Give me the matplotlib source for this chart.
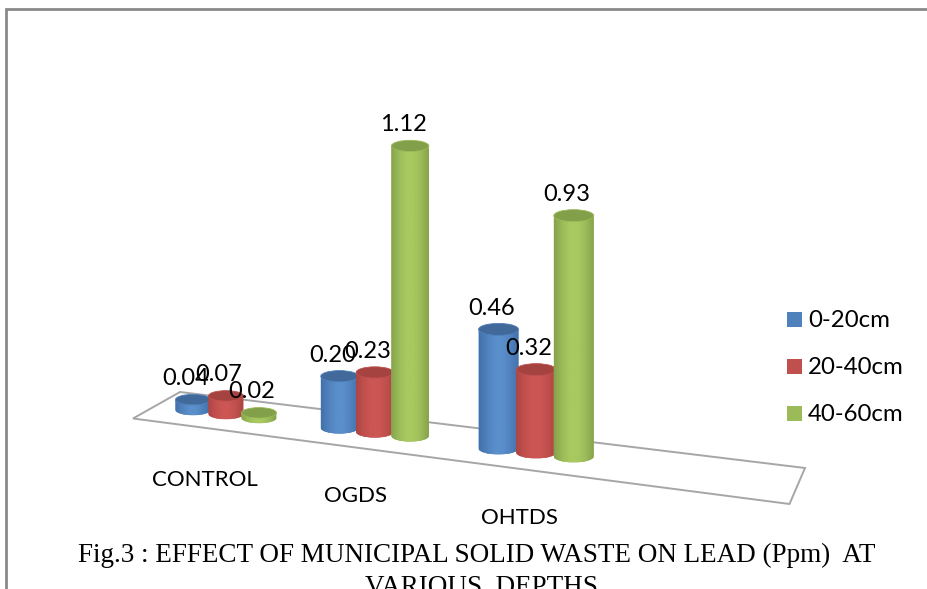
"""Fig.3 -- lead (Ppm) at three depths, drawn as Excel style 3D cylinders."""
import numpy as np
import matplotlib
matplotlib.use("Agg")
import matplotlib.pyplot as plt
from matplotlib.patches import Ellipse, Polygon, Rectangle, PathPatch
from matplotlib.path import Path

sites = ["CONTROL", "OGDS", "OHTDS"]
depths = ["0-20cm", "20-40cm", "40-60cm"]
lead_0_20 = [0.04, 0.20, 0.46]
lead_20_40 = [0.07, 0.23, 0.32]
lead_40_60 = [0.02, 1.12, 0.93]
caption = ["Fig.3 : EFFECT OF MUNICIPAL SOLID WASTE ON LEAD (Ppm)  AT",
           "VARIOUS  DEPTHS"]

# colours: main, dark edge, light centre, top cap
colors = [("#4F81BD", "#4372AB", "#5A8FCB", "#41699A"),
          ("#C0504D", "#AD4542", "#CC5653", "#A54341"),
          ("#9BBB59", "#86A34B", "#A8C960", "#82A04A")]

PX_PER_UNIT = 259.0   # vertical pixels per Ppm
plt.rcParams["font.family"] = ["Lato", "DejaVu Sans"]


def base_point(g, s):
    """Floor position of a cylinder, bars get larger towards the front."""
    grow = 1 + 0.07 * g
    x = 193 + 146.5 * g + 6.25 * g * (g - 1) + 33 * grow * s
    y = 410 + 18 * g + 1.25 * g * (g - 1) + 4 * s
    return x, y, 35 * grow


def draw_cylinder(ax, x, y, w, h, cols, z):
    main, dark, light, cap = cols
    ry = w * 0.15
    left, right = x - w / 2, x + w / 2
    top = y - h
    # body outline with rounded bottom
    k = 0.5523
    verts = [(left, top), (left, y),
             (left, y + k * ry), (x - k * w / 2, y + ry), (x, y + ry),
             (x + k * w / 2, y + ry), (right, y + k * ry), (right, y),
             (right, top), (left, top)]
    codes = [Path.MOVETO, Path.LINETO, Path.CURVE4, Path.CURVE4, Path.CURVE4,
             Path.CURVE4, Path.CURVE4, Path.CURVE4, Path.LINETO, Path.CLOSEPOLY]
    body = PathPatch(Path(verts, codes), fc=main, ec="none", zorder=z)
    ax.add_patch(body)
    cmap = matplotlib.colors.LinearSegmentedColormap.from_list(
        "c", [dark, main, light, light, main, dark])
    grad = np.linspace(0, 1, 64).reshape(1, -1)
    im = ax.imshow(grad, cmap=cmap, aspect="auto", zorder=z + 0.1,
                   extent=(left, right, y + ry, top))
    im.set_clip_path(body)
    ax.add_patch(Ellipse((x, top), w, 2 * ry, fc=cap, ec=main, lw=0.6, zorder=z + 0.2))


fig = plt.figure(figsize=(9.28, 5.89), dpi=100)
ax = fig.add_axes([0, 0, 1, 1])
ax.set_xlim(0, 928)
ax.set_ylim(589, 0)
ax.axis("off")

# outer frame
ax.plot([6, 6, 928], [589, 9, 9], color="#8A8A8A", lw=2.0, solid_joinstyle="miter", zorder=1)

# floor of the 3D plot
floor = [(133, 418.5), (180, 392), (805, 468), (789.5, 504)]
ax.add_patch(Polygon(floor, closed=True, fc="white", ec="#A6A6A6", lw=1.4, zorder=2))

series = [lead_0_20, lead_20_40, lead_40_60]
z = 3
for g in range(len(sites)):
    for s, vals in enumerate(series):
        x, y, w = base_point(g, s)
        h = vals[g] * PX_PER_UNIT
        draw_cylinder(ax, x, y, w, h, colors[s], z)
        z += 1

# value labels go above everything, they overlap in the original too
for g in range(len(sites)):
    for s, vals in enumerate(series):
        x, y, w = base_point(g, s)
        ax.text(x - 7, y - vals[g] * PX_PER_UNIT - 21, f"{vals[g]:.2f}", fontsize=17,
                ha="center", va="center", color="black", zorder=50)

# category labels sit along the front edge
for g, name in enumerate(sites):
    ax.text(205 + 151 * g + 6 * g * (g - 1), 479.5 + 17 * g + 2.5 * g * (g - 1), name, fontsize=16,
            ha="center", va="center", color="black", zorder=50)

# legend
for s, name in enumerate(depths):
    ya = 312 + 47 * s
    ax.add_patch(Rectangle((787, ya), 15, 15, fc=colors[s][0], ec="none", zorder=50))
    ax.text(808, ya + 8.5, name, fontsize=17.3, ha="left", va="center", color="black", zorder=50)

ax.text(476.5, 555, caption[0], fontsize=19.55, family="Liberation Serif", ha="center",
        va="center", color="black", zorder=50)
ax.text(481, 588, caption[1], fontsize=19.55, family="Liberation Serif", ha="center",
        va="center", color="black", zorder=50)

ax.set_xlim(0, 928)
ax.set_ylim(589, 0)
fig.savefig("out.png", dpi=100)
